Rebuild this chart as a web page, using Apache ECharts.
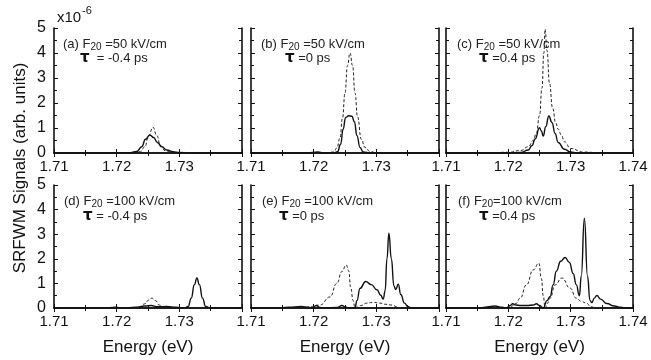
<!DOCTYPE html>
<html>
<head>
<meta charset="utf-8">
<script src="https://cdn.jsdelivr.net/npm/echarts@6/dist/echarts.min.js"></script>
<style>html,body{margin:0;padding:0;background:#fff}#c{width:651px;height:360px}</style>
</head>
<body>
<div id="c"></div>
<script>
// ---- data (energy in eV, signal in units of 1e-6) ----
const xTicks = [1.71, 1.72, 1.73, 1.74];
const yTicks = [0, 1, 2, 3, 4, 5];

const aSolid = [[1.71,0],[1.72,0],[1.722,0.01],[1.7232,0.06],[1.7240,0.25],[1.7246,0.55],[1.7253,0.72],[1.7259,0.62],[1.7265,0.42],[1.7272,0.25],[1.728,0.12],[1.729,0.05],[1.730,0.02],[1.732,0],[1.74,0]];
const aDash  = [[1.71,0],[1.722,0],[1.7238,0.05],[1.7245,0.25],[1.7251,0.7],[1.7258,1.03],[1.7264,0.7],[1.7270,0.28],[1.7278,0.08],[1.729,0.02],[1.731,0],[1.74,0]];

const bSolid = [[1.71,0],[1.719,0],[1.7207,0.04],[1.7215,0],[1.7232,0],[1.7238,0.05],[1.7243,0.35],[1.7247,0.95],[1.7251,1.42],[1.7256,1.49],[1.7261,1.47],[1.7265,1.25],[1.7269,0.7],[1.7274,0.22],[1.7279,0.04],[1.729,0],[1.74,0]];
const bDash  = [[1.71,0],[1.722,0],[1.7232,0.04],[1.7237,0.2],[1.7242,0.6],[1.7246,1.4],[1.725,2.4],[1.7254,3.5],[1.7258,4.0],[1.7262,3.5],[1.7266,2.4],[1.727,1.45],[1.7276,0.55],[1.7282,0.22],[1.729,0.06],[1.730,0.01],[1.74,0]];

const cSolid = [[1.71,0],[1.72,0],[1.722,0.02],[1.7232,0.12],[1.7238,0.3],[1.7243,0.56],[1.7250,1.01],[1.7253,0.88],[1.7256,0.68],[1.7260,1.05],[1.7265,1.48],[1.7270,1.22],[1.7275,0.78],[1.728,0.42],[1.729,0.15],[1.730,0.04],[1.731,0],[1.74,0]];
const cDash  = [[1.71,0],[1.716,0],[1.72,0.03],[1.722,0.1],[1.7232,0.25],[1.724,0.5],[1.7245,0.8],[1.725,1.5],[1.7254,2.6],[1.7257,4.0],[1.7259,4.95],[1.7262,4.1],[1.7266,2.8],[1.7271,1.8],[1.7276,1.2],[1.728,0.95],[1.7285,0.72],[1.729,0.45],[1.730,0.18],[1.732,0.04],[1.735,0],[1.74,0]];

const dSolid = [[1.71,0],[1.718,0],[1.7198,0.03],[1.721,0],[1.723,0.03],[1.7245,0.08],[1.7255,0.1],[1.7265,0.05],[1.728,0.06],[1.7295,0.03],[1.7308,0],[1.7314,0.06],[1.7319,0.4],[1.7324,0.95],[1.7328,1.22],[1.7332,0.95],[1.7337,0.4],[1.7342,0.06],[1.735,0],[1.74,0]];
const dDash  = [[1.71,0],[1.7225,0],[1.7237,0.04],[1.7245,0.17],[1.7251,0.32],[1.7256,0.4],[1.7262,0.3],[1.7268,0.12],[1.7275,0.03],[1.729,0],[1.74,0]];

const eSolid = [[1.71,0],[1.714,0],[1.716,0.03],[1.718,0.06],[1.7192,0.03],[1.7198,0],[1.7204,0.1],[1.721,0.02],[1.7215,0],[1.7238,0.02],[1.7245,0.1],[1.7251,0.04],[1.7256,0],[1.7266,0],[1.7269,0.3],[1.7274,0.8],[1.7283,1.08],[1.7292,0.95],[1.7301,0.74],[1.7307,0.52],[1.7311,0.36],[1.7314,0.7],[1.7317,2.0],[1.7320,3.04],[1.7324,2.0],[1.7328,0.9],[1.7331,0.75],[1.7335,0.97],[1.7339,0.55],[1.7345,0.2],[1.735,0.06],[1.7356,0],[1.74,0]];
const eDash  = [[1.71,0],[1.716,0],[1.719,0.03],[1.721,0.12],[1.7226,0.45],[1.7237,1.0],[1.7245,1.48],[1.7252,1.75],[1.7256,1.5],[1.7259,0.85],[1.7263,0.3],[1.7266,0],[1.7275,0.1],[1.7285,0.2],[1.7295,0.23],[1.7305,0.2],[1.7315,0.15],[1.7325,0.12],[1.7333,0.05],[1.734,0],[1.74,0]];

const fSolid = [[1.71,0],[1.7155,0],[1.7166,0.04],[1.7178,0.08],[1.719,0.03],[1.7197,0],[1.7203,0.1],[1.7207,0.17],[1.7212,0.12],[1.722,0.1],[1.723,0.1],[1.724,0.12],[1.7245,0.17],[1.725,0.1],[1.7256,0],[1.7262,0.3],[1.7267,0.47],[1.7272,0.95],[1.7277,1.5],[1.7284,1.9],[1.7291,2.05],[1.7298,1.85],[1.7304,1.4],[1.7309,0.95],[1.7314,0.5],[1.7317,1.3],[1.7322,3.65],[1.7327,1.3],[1.7331,0.3],[1.7334,0.22],[1.7338,0.4],[1.7342,0.51],[1.7348,0.36],[1.7358,0.18],[1.737,0.08],[1.738,0.03],[1.739,0],[1.74,0]];
const fDash  = [[1.71,0],[1.719,0],[1.7203,0.03],[1.7212,0.18],[1.7219,0.4],[1.7229,0.94],[1.724,1.55],[1.7249,1.82],[1.7253,1.2],[1.7256,0.5],[1.7259,0],[1.7263,0.2],[1.7267,0.4],[1.7275,0.94],[1.7286,1.22],[1.7299,0.81],[1.7309,0.4],[1.7317,0.27],[1.7325,0.2],[1.7333,0.05],[1.734,0],[1.74,0]];

const panelText = [
  ['(a) ', '=50 kV/cm', '  = -0.4 ps'],
  ['(b) ', '=50 kV/cm', ' =0 ps'],
  ['(c) ', '=50 kV/cm', ' =0.4 ps'],
  ['(d) ', '=100 kV/cm', ' = -0.4 ps'],
  ['(e) ', '=100 kV/cm', ' =0 ps'],
  ['(f) ', '=100 kV/cm', ' =0.4 ps']
];
const subGap = [' ', ' ', ' ', ' ', ' ', ''];
const solids = [aSolid, bSolid, cSolid, dSolid, eSolid, fSolid];
const dashes = [aDash, bDash, cDash, dDash, eDash, fDash];

// ---- layout ----
const FONT = 'Liberation Sans, Arial, Helvetica, sans-serif';
const colsL = [54, 251, 446];
const colsW = [188, 188, 187];
const rowsT = [28, 185];
const rowsH = [125, 123];
const labelPos = [[63, 37, 80, 51], [261, 37, 285, 51], [457, 37, 479, 51],
                  [64, 194, 83, 209], [262, 194, 279, 209], [458, 194, 479, 209]];

const grids = [], xAxes = [], yAxes = [], series = [], titles = [];
for (let i = 0; i < 6; i++) {
  const r = Math.floor(i / 3), c = i % 3;
  grids.push({left: colsL[c], top: rowsT[r], width: colsW[c], height: rowsH[r], show: false});
  const common = {
    type: 'value', gridIndex: i,
    axisLine: {show: true, lineStyle: {color: '#111', width: 1.6}},
    axisTick: {show: true, inside: true, length: 4, lineStyle: {color: '#111', width: 1}},
    minorTick: {show: true, splitNumber: 2, length: 3, lineStyle: {color: '#111', width: 1}},
    splitLine: {show: false}, minorSplitLine: {show: false}
  };
  xAxes.push(Object.assign({}, common, {
    position: 'bottom', min: xTicks[0], max: xTicks[xTicks.length - 1], interval: 0.01,
    axisLabel: {show: true, fontFamily: FONT, fontSize: 15, color: '#111', margin: 6,
      showMaxLabel: c === 2, showMinLabel: true, formatter: v => v.toFixed(2)},
    name: r === 1 ? 'Energy (eV)' : '', nameLocation: 'middle', nameGap: 31,
    nameTextStyle: {fontFamily: FONT, fontSize: 17, color: '#111'}
  }));
  xAxes.push(Object.assign({}, common, {
    position: 'top', min: xTicks[0], max: xTicks[xTicks.length - 1], interval: 0.01,
    axisLabel: {show: false}
  }));
  yAxes.push(Object.assign({}, common, {
    position: 'left', min: yTicks[0], max: yTicks[yTicks.length - 1], interval: 1,
    axisLabel: {show: c === 0, fontFamily: FONT, fontSize: 16, color: '#111', margin: 8}
  }));
  yAxes.push(Object.assign({}, common, {
    position: 'right', min: yTicks[0], max: yTicks[yTicks.length - 1], interval: 1,
    axisLabel: {show: false}
  }));
  series.push({type: 'line', xAxisIndex: 2 * i, yAxisIndex: 2 * i, data: solids[i],
    showSymbol: false, symbol: 'none', smooth: 0.5, smoothMonotone: 'x',
    lineStyle: {color: '#111', width: 1.4, type: 'solid'}, z: 3});
  series.push({type: 'line', xAxisIndex: 2 * i, yAxisIndex: 2 * i, data: dashes[i],
    showSymbol: false, symbol: 'none', smooth: 0.5, smoothMonotone: 'x',
    lineStyle: {color: '#222', width: 1, type: [3, 2]}, z: 2});
  const p = panelText[i], lp = labelPos[i];
  titles.push({left: lp[0], top: lp[1], padding: 0,
    text: '{n|' + p[0] + 'F}{s|20}{n|' + subGap[i] + p[1] + '}',
    textStyle: {fontWeight: 'normal', rich: {
      n: {fontFamily: FONT, fontSize: 13, fontWeight: 'normal', color: '#222'},
      s: {fontFamily: FONT, fontSize: 10, fontWeight: 'normal', color: '#222', verticalAlign: 'bottom', padding: [5, 0, 0, 0]}
    }}});
  titles.push({left: lp[2], top: lp[3], padding: 0,
    text: '{t|τ}{n|' + p[2] + '}',
    textStyle: {fontWeight: 'normal', rich: {
      t: {fontFamily: 'DejaVu Sans, sans-serif', fontSize: 15, fontWeight: 'bold', color: '#111'},
      n: {fontFamily: FONT, fontSize: 13, fontWeight: 'normal', color: '#222'}
    }}});
}
titles.push({left: 57, top: 10, padding: 0, text: 'x10',
  textStyle: {fontFamily: FONT, fontSize: 15, fontWeight: 'normal', color: '#111'}});
titles.push({left: 82, top: 5, padding: 0, text: '-6',
  textStyle: {fontFamily: FONT, fontSize: 11, fontWeight: 'normal', color: '#111'}});

const chart = echarts.init(document.getElementById('c'), null, {renderer: 'canvas'});
chart.setOption({
  animation: false,
  backgroundColor: '#fff',
  title: titles,
  grid: grids,
  xAxis: xAxes,
  yAxis: yAxes,
  series: series,
  graphic: [{
    type: 'text', x: 20, y: 168, rotation: Math.PI / 2,
    style: {text: 'SRFWM Signals (arb. units)', font: '17px ' + FONT, fill: '#111',
      align: 'center', verticalAlign: 'middle'}
  }]
});
</script>
</body>
</html>
